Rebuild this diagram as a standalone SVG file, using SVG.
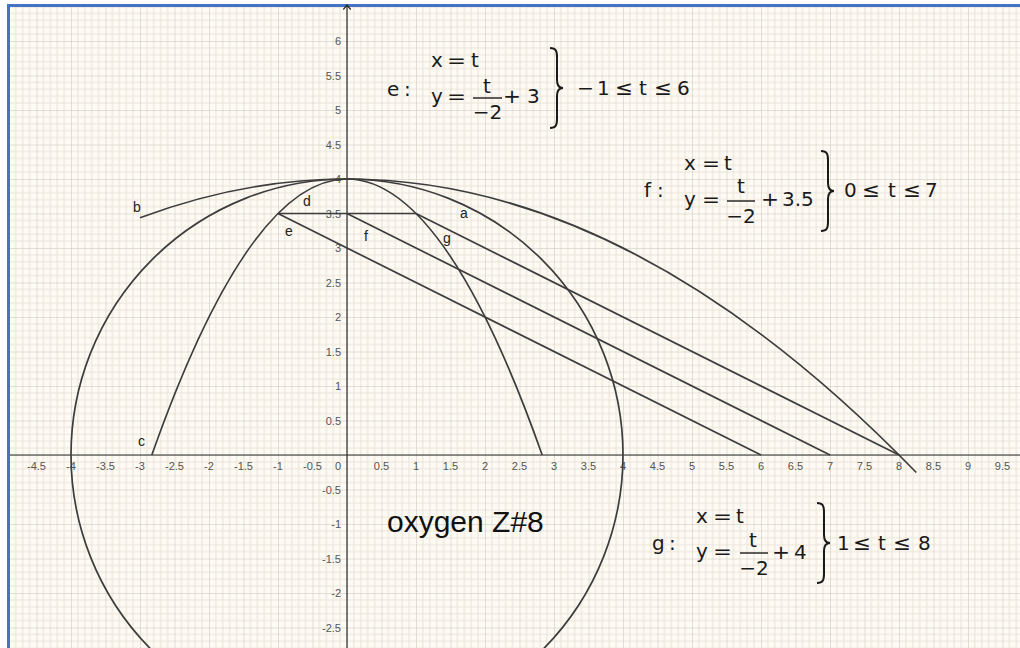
<svg xmlns="http://www.w3.org/2000/svg" width="1020" height="648" viewBox="0 0 1020 648">
<style>
.tk{font-family:"Liberation Sans",Arial,sans-serif;font-size:11px;fill:#555}
.tx{text-anchor:middle}
.ty{text-anchor:end}
.lb{font-family:"Liberation Sans",Arial,sans-serif;font-size:14px;fill:#222}
.m{font-family:"DejaVu Sans",sans-serif;font-size:20px;fill:#1a1a1a}
.mid{text-anchor:middle}
.crv{fill:none;stroke:#3d3d3d;stroke-width:1.7}
.ax{stroke:#2a2a2a;stroke-width:1.2;fill:none}
.bar{stroke:#1a1a1a;stroke-width:1.4}
.br{fill:none;stroke:#1a1a1a;stroke-width:2}
</style>
<defs>
<pattern id="grid" patternUnits="userSpaceOnUse" x="2" y="6.5" width="34.5" height="34.5">
<rect width="34.5" height="34.5" fill="#fdfbf3"/>
<path d="M6.9 0V34.5M13.8 0V34.5M20.7 0V34.5M27.6 0V34.5M0 6.9H34.5M0 13.8H34.5M0 20.7H34.5M0 27.6H34.5" stroke="#ebe3d9" stroke-width="1"/>
<path d="M0 0V34.5M0 0H34.5" stroke="#cac2b9" stroke-width="1"/>
</pattern>
<path id="brace" d="M0,-40 C6,-40 7,-37 7,-31 L7,-8 C7,-3 9,0 13,0 C9,0 7,3 7,8 L7,31 C7,37 6,40 0,40"/>
</defs>
<rect width="1020" height="648" fill="#ffffff"/>
<rect x="10" y="7" width="1010" height="641" fill="url(#grid)"/>
<rect x="7" y="4" width="1013" height="3" fill="#4472c4"/>
<rect x="7" y="4" width="3" height="644" fill="#4472c4"/>

<g id="axes">
<line class="ax" x1="10" y1="455" x2="1020" y2="455"/>
<line class="ax" x1="347" y1="5" x2="347" y2="648"/>
<polyline class="ax" points="343.3,9.5 347,5 350.7,9.5"/>
</g>

<g id="xlabels" class="tk tx">
<text x="36.5" y="470">-4.5</text><text x="71" y="470">-4</text><text x="105.5" y="470">-3.5</text><text x="140" y="470">-3</text><text x="174.5" y="470">-2.5</text><text x="209" y="470">-2</text><text x="243.5" y="470">-1.5</text><text x="278" y="470">-1</text><text x="312.5" y="470">-0.5</text><text x="338" y="470">0</text><text x="381.5" y="470">0.5</text><text x="416" y="470">1</text><text x="450.5" y="470">1.5</text><text x="485" y="470">2</text><text x="519.5" y="470">2.5</text><text x="554" y="470">3</text><text x="588.5" y="470">3.5</text><text x="623" y="470">4</text><text x="657.5" y="470">4.5</text><text x="692" y="470">5</text><text x="726.5" y="470">5.5</text><text x="761" y="470">6</text><text x="795.5" y="470">6.5</text><text x="830" y="470">7</text><text x="864.5" y="470">7.5</text><text x="899" y="470">8</text><text x="933.5" y="470">8.5</text><text x="968" y="470">9</text><text x="1002.5" y="470">9.5</text>
</g>
<g id="ylabels" class="tk ty">
<text x="341" y="424.5">0.5</text><text x="341" y="390">1</text><text x="341" y="355.5">1.5</text><text x="341" y="321">2</text><text x="341" y="286.5">2.5</text><text x="341" y="252">3</text><text x="341" y="217.5">3.5</text><text x="341" y="183">4</text><text x="341" y="148.5">4.5</text><text x="341" y="114">5</text><text x="341" y="79.5">5.5</text><text x="341" y="45">6</text>
<text x="341" y="493.5">-0.5</text><text x="341" y="528">-1</text><text x="341" y="562.5">-1.5</text><text x="341" y="597">-2</text><text x="341" y="631.5">-2.5</text>
</g>

<g id="curves">
<circle id="a" class="crv" cx="347" cy="455" r="276"/>
<path id="b" class="crv" d="M140,217.8 Q528.1,72.3 916.3,472.5"/>
<path id="c" class="crv" d="M151.8,455 Q347,-97 542.2,455"/>
<line id="d" class="crv" x1="278" y1="213.5" x2="416" y2="213.5"/>
<line id="e" class="crv" x1="278" y1="213.5" x2="761" y2="455"/>
<line id="f" class="crv" x1="347" y1="213.5" x2="830" y2="455"/>
<line id="g" class="crv" x1="416" y1="213.5" x2="899" y2="455"/>
</g>

<g id="curve-labels" class="lb">
<text x="460" y="218">a</text>
<text x="133" y="212">b</text>
<text x="138" y="446">c</text>
<text x="303" y="206">d</text>
<text x="285" y="236">e</text>
<text x="364" y="241">f</text>
<text x="443" y="243">g</text>
</g>

<g id="eq-e" class="m">
<text x="387" y="96">e</text><text x="404" y="96">:</text>
<text x="431" y="67">x</text><text x="447" y="67" textLength="19" lengthAdjust="spacingAndGlyphs">=</text><text x="471" y="67">t</text>
<text x="431" y="103">y</text><text x="447" y="103" textLength="19" lengthAdjust="spacingAndGlyphs">=</text>
<text x="483" y="93">t</text>
<line class="bar" x1="473" y1="98" x2="502" y2="98"/>
<text class="mid" x="487.5" y="119">−2</text>
<text x="503" y="103" textLength="18" lengthAdjust="spacingAndGlyphs">+</text><text x="527" y="103">3</text>
<use href="#brace" class="br" transform="translate(550,88)"/>
<text x="577" y="95" textLength="17" lengthAdjust="spacingAndGlyphs">−</text><text x="597" y="95">1</text><text x="615" y="95" textLength="18" lengthAdjust="spacingAndGlyphs">≤</text><text x="639" y="95">t</text><text x="654" y="95" textLength="18" lengthAdjust="spacingAndGlyphs">≤</text><text x="677" y="95">6</text>
</g>

<g id="eq-f" class="m">
<text x="644" y="197">f</text><text x="657" y="197">:</text>
<text x="684" y="170">x</text><text x="702" y="170" textLength="18" lengthAdjust="spacingAndGlyphs">=</text><text x="724" y="170">t</text>
<text x="684" y="206">y</text><text x="702" y="206" textLength="18" lengthAdjust="spacingAndGlyphs">=</text>
<text x="737" y="193">t</text>
<line class="bar" x1="727" y1="201" x2="755" y2="201"/>
<text class="mid" x="741" y="223">−2</text>
<text x="761" y="206" textLength="18" lengthAdjust="spacingAndGlyphs">+</text><text x="782" y="206">3.5</text>
<use href="#brace" class="br" transform="translate(821,191)"/>
<text x="844" y="197">0</text><text x="862" y="197" textLength="18" lengthAdjust="spacingAndGlyphs">≤</text><text x="888" y="197">t</text><text x="903" y="197" textLength="18" lengthAdjust="spacingAndGlyphs">≤</text><text x="925" y="197">7</text>
</g>

<g id="eq-g" class="m">
<text x="652" y="550">g</text><text x="669" y="550">:</text>
<text x="696" y="523">x</text><text x="713" y="523" textLength="19" lengthAdjust="spacingAndGlyphs">=</text><text x="736" y="523">t</text>
<text x="696" y="558">y</text><text x="713" y="558" textLength="19" lengthAdjust="spacingAndGlyphs">=</text>
<text x="749" y="547">t</text>
<line class="bar" x1="740" y1="553" x2="768" y2="553"/>
<text class="mid" x="754" y="575">−2</text>
<text x="772" y="559" textLength="18" lengthAdjust="spacingAndGlyphs">+</text><text x="794" y="559">4</text>
<use href="#brace" class="br" transform="translate(817,543)"/>
<text x="837" y="550">1</text><text x="853" y="550" textLength="18" lengthAdjust="spacingAndGlyphs">≤</text><text x="878" y="550">t</text><text x="893" y="550" textLength="18" lengthAdjust="spacingAndGlyphs">≤</text><text x="918" y="550">8</text>
</g>

<g id="title">
<text x="387" y="532" style="font-family:'Liberation Sans',Arial,sans-serif;font-size:30px;fill:#111">oxygen Z#8</text>
</g>
</svg>
